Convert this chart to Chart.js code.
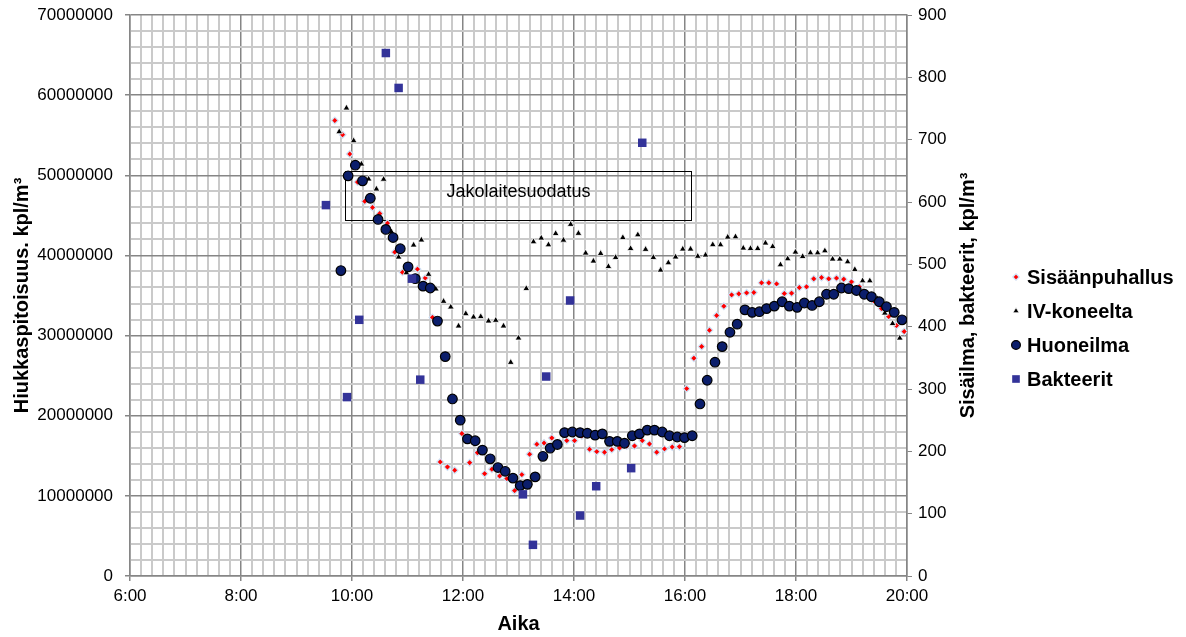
<!DOCTYPE html>
<html>
<head>
<meta charset="utf-8">
<script src="https://cdn.jsdelivr.net/npm/chart.js@4.4.1/dist/chart.umd.min.js"></script>
<style>
  html, body { margin: 0; padding: 0; background: #fff; }
</style>
</head>
<body>
<canvas id="chart" width="1186" height="637"></canvas>
<script>
// SISÄÄNPUHALLUS (left axis, kpl/m3) - time in hours
var sisaanTimes = [9.69, 9.83, 9.96, 10.10, 10.23, 10.37, 10.50, 10.64, 10.77, 10.91,
  11.04, 11.18, 11.32, 11.45, 11.59, 11.72, 11.85, 11.98, 12.12, 12.26,
  12.39, 12.52, 12.66, 12.79, 12.93, 13.06, 13.20, 13.33, 13.46, 13.60,
  13.74, 13.87, 14.01, 14.14, 14.28, 14.41, 14.55, 14.68, 14.82, 14.95,
  15.09, 15.23, 15.36, 15.49, 15.63, 15.77, 15.90, 16.03, 16.16, 16.30,
  16.44, 16.57, 16.70, 16.84, 16.97, 17.11, 17.24, 17.38, 17.51, 17.65,
  17.79, 17.92, 18.06, 18.19, 18.32, 18.46, 18.59, 18.73, 18.86, 19.00,
  19.14, 19.27, 19.40, 19.54, 19.67, 19.81, 19.95];
var sisaanValues = [56840000, 55060000, 52650000, 49150000, 46750000, 45980000, 45220000, 44030000, 40410000, 37890000,
  38450000, 38290000, 37180000, 32270000, 14230000, 13610000, 13200000, 17770000, 14140000, 15390000,
  12770000, 13320000, 12480000, 12150000, 10650000, 12650000, 15190000, 16440000, 16600000, 17230000,
  16690000, 16890000, 16890000, 17480000, 15820000, 15520000, 15440000, 15770000, 15980000, 16230000,
  16230000, 16890000, 16480000, 15440000, 15860000, 16100000, 16140000, 23380000, 27180000, 28630000,
  30670000, 32500000, 33670000, 35080000, 35210000, 35330000, 35370000, 36580000, 36580000, 36450000,
  35240000, 35290000, 35990000, 36080000, 37080000, 37240000, 37080000, 37170000, 37040000, 36700000,
  36080000, 35330000, 34330000, 33370000, 32370000, 31250000, 30500000];

// IV-KONEELTA (left axis)
var ivTimes = [9.77, 9.90, 10.03, 10.17, 10.30, 10.44, 10.57, 10.71, 10.84, 10.98,
  11.11, 11.25, 11.38, 11.51, 11.65, 11.78, 11.92, 12.05, 12.19, 12.32,
  12.46, 12.59, 12.73, 12.86, 13.00, 13.14, 13.27, 13.41, 13.54, 13.67,
  13.81, 13.94, 14.08, 14.21, 14.35, 14.48, 14.62, 14.75, 14.88, 15.02,
  15.15, 15.29, 15.43, 15.56, 15.70, 15.83, 15.96, 16.10, 16.23, 16.37,
  16.50, 16.64, 16.77, 16.91, 17.05, 17.18, 17.31, 17.45, 17.58, 17.72,
  17.85, 17.99, 18.12, 18.26, 18.39, 18.52, 18.66, 18.79, 18.93, 19.06,
  19.20, 19.33, 19.47, 19.60, 19.74, 19.87];
var ivValues = [55430000, 58390000, 54310000, 51400000, 49530000, 48280000, 49500000, 42950000, 39790000, 37830000,
  41290000, 41920000, 37640000, 35810000, 34270000, 33560000, 31190000, 32730000, 32310000, 32360000,
  31810000, 31900000, 31190000, 26650000, 29690000, 35870000, 41700000, 42160000, 41320000, 42730000,
  41900000, 43870000, 42750000, 40290000, 39290000, 40240000, 38610000, 39740000, 42220000, 40850000,
  42570000, 40750000, 39740000, 38160000, 39080000, 39800000, 40790000, 40790000, 39890000, 40040000,
  41340000, 41320000, 42280000, 42320000, 40910000, 40860000, 40860000, 41540000, 41110000, 38830000,
  39580000, 40410000, 39860000, 40320000, 40320000, 40570000, 39540000, 39540000, 39200000, 38240000,
  36830000, 36830000, 34580000, 32800000, 31500000, 29680000];

// HUONEILMA (right axis)
var huoneTimes = [9.80, 9.93, 10.06, 10.19, 10.33, 10.47, 10.61, 10.74, 10.87, 11.01,
  11.14, 11.28, 11.41, 11.54, 11.68, 11.81, 11.95, 12.08, 12.22, 12.35,
  12.49, 12.63, 12.76, 12.90, 13.03, 13.16, 13.30, 13.44, 13.57, 13.70,
  13.83, 13.97, 14.11, 14.24, 14.38, 14.51, 14.64, 14.78, 14.91, 15.05,
  15.18, 15.32, 15.45, 15.59, 15.72, 15.86, 15.99, 16.13, 16.27, 16.40,
  16.54, 16.67, 16.81, 16.94, 17.08, 17.21, 17.34, 17.47, 17.61, 17.75,
  17.88, 18.02, 18.15, 18.29, 18.42, 18.55, 18.68, 18.82, 18.95, 19.09,
  19.23, 19.36, 19.50, 19.63, 19.77, 19.91];
var huoneValues = [490, 642, 659, 634, 606, 572, 556, 543, 525, 496,
  477, 465, 462, 409, 352, 284, 250, 220, 217, 202,
  188, 174, 168, 157, 145, 147, 159, 192, 205, 211,
  230, 231, 230, 229, 226, 228, 216, 216, 213, 225,
  228, 234, 234, 231, 225, 223, 222, 225, 276, 314,
  343, 368, 391, 404, 427, 423, 424, 429, 433, 440,
  433, 431, 438, 434, 440, 452, 452, 462, 461, 458,
  452, 448, 440, 432, 423, 411];

// BAKTEERIT (right axis)
var bakTimes = [9.53, 9.91, 10.13, 10.61, 10.84, 11.08, 11.23, 13.08, 13.26, 13.50, 13.93, 14.11, 14.40, 15.03, 15.23];
var bakValues = [595, 287, 411, 839, 783, 477, 315, 131, 50, 320, 442, 97, 144, 173, 695];

// AXIS / TEXT
var xTitle = "Aika";
var leftTitle = "Hiukkaspitoisuus. kpl/m³";
var rightTitle = "Sisäilma, bakteerit, kpl/m³";
var noteText = "Jakolaitesuodatus";
var noteBox = { x0: 9.88, x1: 16.10, yTop: 50570000, yBottom: 44420000 };

var FONT = "'Liberation Sans', Arial, Helvetica, sans-serif";

function toPoints(xs, ys) {
  return xs.map(function (x, i) { return { x: x, y: ys[i] }; });
}
function isMult(v, step) {
  return Math.abs(v / step - Math.round(v / step)) < 1e-6;
}

var seriesStyles = [
  { label: "Sisäänpuhallus", pointStyle: "rectRot", radius: 3.4, fill: "#ff0000", border: "#cfe2f6", borderWidth: 1.2 },
  { label: "IV-koneelta", pointStyle: "triangle", radius: 3.9, fill: "#000000", border: "#ffffff", borderWidth: 0.8 },
  { label: "Huoneilma", pointStyle: "circle", radius: 4.8, fill: "#0b1e6b", border: "#000000", borderWidth: 1.2 },
  { label: "Bakteerit", pointStyle: "rect", radius: 6, fill: "#333399", border: "#333399", borderWidth: 0 }
];

function ds(i, data, axis) {
  var s = seriesStyles[i];
  return {
    label: s.label, data: data, yAxisID: axis,
    pointStyle: s.pointStyle, pointRadius: s.radius, pointHoverRadius: s.radius,
    backgroundColor: s.fill, borderColor: s.border, borderWidth: s.borderWidth,
    showLine: false, order: 4 - i
  };
}

var gridMinor = "#cacaca", gridMajor = "#868686";

// EXTRA DRAWING: note box, right axis title, legend
var extrasPlugin = {
  id: "extras",
  beforeDatasetsDraw: function (chart) {
    var ctx = chart.ctx, xs = chart.scales.x, ys = chart.scales.y;
    var x1 = Math.round(xs.getPixelForValue(noteBox.x0)) + 0.5;
    var x2 = Math.round(xs.getPixelForValue(noteBox.x1)) + 0.5;
    var y1 = Math.round(ys.getPixelForValue(noteBox.yTop)) + 0.5;
    var y2 = Math.round(ys.getPixelForValue(noteBox.yBottom)) + 0.5;
    ctx.save();
    ctx.strokeStyle = "#000";
    ctx.lineWidth = 1;
    ctx.strokeRect(x1, y1, x2 - x1, y2 - y1);
    ctx.fillStyle = "#000";
    ctx.font = "18px " + FONT;
    ctx.textAlign = "center";
    ctx.textBaseline = "middle";
    ctx.fillText(noteText, (x1 + x2) / 2, y1 + (y2 - y1) * 0.42);
    ctx.restore();
  },
  afterDraw: function (chart) {
    var ctx = chart.ctx, area = chart.chartArea;
    ctx.save();
    ctx.fillStyle = "#000";
    ctx.font = "bold 20px " + FONT;
    ctx.textAlign = "center";
    ctx.textBaseline = "middle";
    ctx.translate(968, (area.top + area.bottom) / 2);
    ctx.rotate(-Math.PI / 2);
    ctx.fillText(rightTitle, 0, 0);
    ctx.restore();

    // legend
    var rows = [277, 311, 345, 379];
    var legSize = [3.2, 3.6, 4.4, 5.4];
    ctx.save();
    ctx.font = "bold 20px " + FONT;
    ctx.textAlign = "left";
    ctx.textBaseline = "middle";
    seriesStyles.forEach(function (s, i) {
      ctx.fillStyle = s.fill;
      ctx.strokeStyle = s.border;
      ctx.lineWidth = s.borderWidth;
      Chart.helpers.drawPoint(ctx, { pointStyle: s.pointStyle, radius: legSize[i], rotation: 0, borderWidth: s.borderWidth }, 1016, rows[i]);
      ctx.fillStyle = "#000";
      ctx.fillText(s.label, 1027, rows[i] + 1);
    });
    ctx.restore();
  }
};

function noPad(s) {
  s.paddingTop = 0; s.paddingBottom = 0; s.paddingLeft = 0; s.paddingRight = 0;
}

var config = {
  type: "scatter",
  data: {
    datasets: [
      ds(0, toPoints(sisaanTimes, sisaanValues), "y"),
      ds(1, toPoints(ivTimes, ivValues), "y"),
      ds(2, toPoints(huoneTimes, huoneValues), "y2"),
      ds(3, toPoints(bakTimes, bakValues), "y2")
    ]
  },
  options: {
    responsive: false,
    animation: false,
    layout: { padding: { top: 15, left: 0, right: 0, bottom: 0 } },
    plugins: { legend: { display: false }, tooltip: { enabled: false } },
    scales: {
      x: {
        type: "linear", min: 6, max: 20,
        ticks: {
          stepSize: 0.2, autoSkip: false, maxRotation: 0, minRotation: 0, padding: 5,
          color: "#000", font: { family: FONT, size: 17 },
          callback: function (v) { return isMult(v - 6, 2) ? Math.round(v) + ":00" : ""; }
        },
        grid: {
          color: function (c) { return isMult(c.tick.value, 2) ? gridMajor : gridMinor; },
          lineWidth: function (c) { return isMult(c.tick.value, 2) ? 1.5 : 2; },
          tickLength: 5,
          tickColor: function (c) { return isMult(c.tick.value, 2) ? gridMajor : "rgba(0,0,0,0)"; }
        },
        border: { color: gridMajor, width: 1.5 },
        title: { display: true, text: xTitle, color: "#000", font: { family: FONT, size: 20, weight: "bold" }, padding: { top: 0, bottom: 1 } },
        afterFit: function (s) { s.height = 61; noPad(s); }
      },
      y: {
        type: "linear", position: "left", min: 0, max: 70000000,
        ticks: {
          stepSize: 2000000, autoSkip: false, padding: 12,
          color: "#000", font: { family: FONT, size: 17 },
          callback: function (v) { return isMult(v, 10000000) ? String(v) : ""; }
        },
        grid: {
          color: function (c) { return isMult(c.tick.value, 10000000) ? gridMajor : gridMinor; },
          lineWidth: function (c) { return isMult(c.tick.value, 10000000) ? 1.5 : 2; },
          tickLength: 5,
          tickColor: function (c) { return isMult(c.tick.value, 10000000) ? gridMajor : "rgba(0,0,0,0)"; }
        },
        border: { color: gridMajor, width: 1.5 },
        title: { display: true, text: leftTitle, color: "#000", font: { family: FONT, size: 20, weight: "bold" }, padding: { top: 10, bottom: 0 } },
        afterFit: function (s) { s.width = 130; noPad(s); }
      },
      y2: {
        type: "linear", position: "right", min: 0, max: 900,
        ticks: { stepSize: 100, padding: 6, color: "#000", font: { family: FONT, size: 17 } },
        grid: { drawOnChartArea: false, tickLength: 5, tickColor: gridMajor },
        border: { color: gridMajor, width: 1.5 },
        afterFit: function (s) { s.width = 279; noPad(s); }
      }
    }
  },
  plugins: [extrasPlugin]
};

window.onload = function () {
  var ctx = document.getElementById("chart").getContext("2d");
  window.myChart = new Chart(ctx, config);
};
</script>
</body>
</html>
